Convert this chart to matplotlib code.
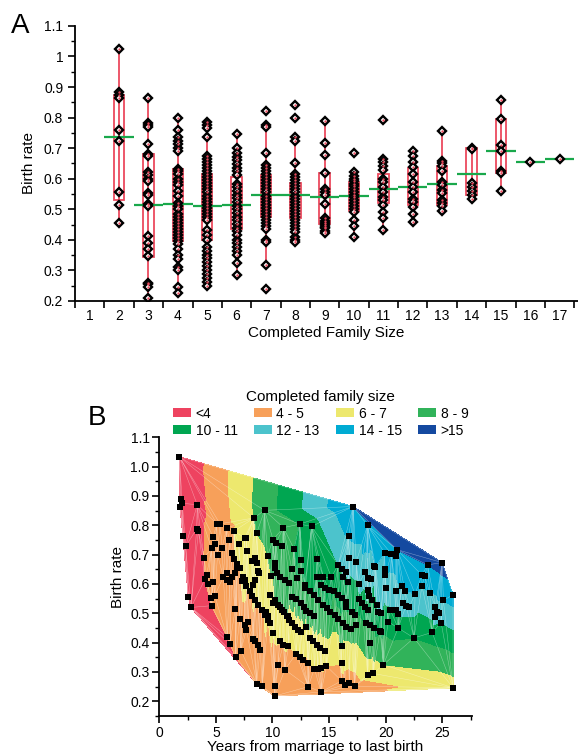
import numpy as np
import matplotlib.pyplot as plt
import matplotlib.tri as mtri
from matplotlib.patches import Patch
from matplotlib.ticker import MultipleLocator, FormatStrFormatter

plt.rcParams['font.family'] = ['Liberation Sans', 'DejaVu Sans']

'''Panel A: birth rate by completed family size'''
sizes = list(range(2, 18))

r2 = [1.025, 0.885, 0.875, 0.865, 0.76, 0.725, 0.555, 0.515, 0.455]
r3 = [0.863, 0.781, 0.776, 0.770, 0.714, 0.68, 0.676, 0.621, 0.611, 0.60, 0.594, 0.553,
      0.546, 0.516, 0.51, 0.412, 0.39, 0.369, 0.347, 0.26, 0.255, 0.247, 0.211]
r4 = [0.80, 0.76, 0.735, 0.725, 0.715, 0.70, 0.69, 0.632, 0.625, 0.615, 0.60, 0.59, 0.58,
      0.56, 0.542, 0.52, 0.51, 0.50, 0.485, 0.475, 0.465, 0.455, 0.445, 0.435, 0.425,
      0.415, 0.405, 0.395, 0.385, 0.37, 0.35, 0.336, 0.31, 0.30, 0.245, 0.225]
r5 = [0.785, 0.775, 0.765, 0.736, 0.675, 0.665, 0.655, 0.645, 0.635, 0.625, 0.615, 0.605,
      0.595, 0.585, 0.575, 0.565, 0.555, 0.545, 0.535, 0.525, 0.515, 0.505, 0.495, 0.485,
      0.475, 0.465, 0.431, 0.415, 0.40, 0.377, 0.365, 0.352, 0.34, 0.328, 0.315, 0.30,
      0.288, 0.275, 0.262, 0.25]
r6 = [0.745, 0.70, 0.685, 0.672, 0.66, 0.648, 0.636, 0.624, 0.612, 0.584, 0.572, 0.56,
      0.548, 0.536, 0.524, 0.512, 0.50, 0.488, 0.476, 0.464, 0.452, 0.44, 0.428, 0.415,
      0.40, 0.39, 0.378, 0.365, 0.352, 0.325, 0.285]
r7 = [0.82, 0.775, 0.77, 0.683, 0.645, 0.635, 0.625, 0.615, 0.605, 0.595, 0.585, 0.575,
      0.565, 0.555, 0.545, 0.535, 0.525, 0.515, 0.505, 0.495, 0.485, 0.475, 0.465, 0.455,
      0.445, 0.435, 0.40, 0.393, 0.317, 0.24]
r8 = [0.842, 0.798, 0.735, 0.725, 0.651, 0.615, 0.605, 0.595, 0.585, 0.575, 0.565, 0.555,
      0.545, 0.535, 0.525, 0.515, 0.505, 0.495, 0.485, 0.475, 0.465, 0.455, 0.445, 0.435,
      0.425, 0.41, 0.40, 0.393]
r9 = [0.788, 0.717, 0.679, 0.62, 0.565, 0.556, 0.546, 0.516, 0.47, 0.462, 0.455, 0.449,
      0.443, 0.438, 0.43, 0.424]
r10 = [0.685, 0.621, 0.61, 0.60, 0.592, 0.583, 0.575, 0.566, 0.557, 0.548, 0.54, 0.531,
       0.522, 0.512, 0.50, 0.49, 0.464, 0.445, 0.41]
r11 = [0.793, 0.665, 0.654, 0.641, 0.627, 0.60, 0.59, 0.573, 0.556, 0.54, 0.53, 0.513,
       0.491, 0.47, 0.431]
r12 = [0.69, 0.674, 0.654, 0.638, 0.616, 0.59, 0.573, 0.556, 0.535, 0.524, 0.507, 0.484, 0.458]
r13 = [0.757, 0.657, 0.651, 0.641, 0.625, 0.59, 0.58, 0.563, 0.552, 0.53, 0.52, 0.51, 0.494]
r14 = [0.70, 0.697, 0.586, 0.573, 0.56, 0.548, 0.535]
r15 = [0.858, 0.795, 0.711, 0.692, 0.625, 0.619, 0.559]
r16 = [0.656]
r17 = [0.666]
rates_a = [r2, r3, r4, r5, r6, r7, r8, r9, r10, r11, r12, r13, r14, r15, r16, r17]

box_lo = [0.53, 0.345, 0.395, 0.399, 0.437, 0.475, 0.47, 0.451, 0.495, 0.52, 0.515, 0.515,
          0.548, 0.619, 0.656, 0.666]
box_hi = [0.875, 0.68, 0.632, 0.616, 0.607, 0.613, 0.585, 0.62, 0.59, 0.616, 0.635, 0.641,
          0.70, 0.795, 0.656, 0.666]
whisk_lo = [0.455, 0.211, 0.225, 0.25, 0.285, 0.317, 0.393, 0.424, 0.41, 0.431, 0.458, 0.494,
            0.535, 0.559, 0.656, 0.666]
whisk_hi = [1.025, 0.863, 0.80, 0.785, 0.745, 0.77, 0.725, 0.788, 0.621, 0.665, 0.69, 0.757,
            0.70, 0.858, 0.656, 0.666]
mean_rate = [0.738, 0.514, 0.516, 0.51, 0.514, 0.547, 0.548, 0.539, 0.543, 0.568, 0.573,
             0.582, 0.615, 0.692, 0.656, 0.666]

'''Panel B: years to last birth vs birth rate, by completed family size'''
yrs2 = [1.77, 1.92, 2.03, 1.83, 2.12, 2.33, 2.56, 2.80]
br2 = [1.034, 0.889, 0.875, 0.864, 0.764, 0.728, 0.557, 0.520]
yrs3 = [3.35, 3.30, 3.45]
br3 = [0.870, 0.788, 0.781]
yrs4 = [3.94, 4.18, 4.03, 4.27, 4.62, 4.60, 4.90, 6.00, 6.24, 6.74, 7.20, 8.60, 9.10, 10.2, 10.2]
br4 = [0.690, 0.630, 0.616, 0.599, 0.526, 0.552, 0.560, 0.419, 0.396, 0.351, 0.373, 0.260,
       0.251, 0.252, 0.218]
yrs5 = [5.07, 5.36, 5.95, 4.77, 4.92, 4.62, 5.56, 5.15, 6.40, 6.60, 5.65, 5.95, 6.24, 6.40,
        5.95, 4.77, 6.70, 7.10, 7.56, 7.85, 7.70, 8.30, 8.45, 8.68, 8.90, 10.5, 11.1, 13.15,
        14.3, 16.1, 16.4, 16.8, 17.25]
br5 = [0.805, 0.805, 0.790, 0.760, 0.736, 0.721, 0.724, 0.700, 0.704, 0.685, 0.624, 0.613,
       0.607, 0.624, 0.636, 0.607, 0.514, 0.480, 0.461, 0.469, 0.444, 0.414, 0.407, 0.392,
       0.375, 0.325, 0.308, 0.250, 0.232, 0.270, 0.257, 0.263, 0.252]
yrs6 = [6.20, 6.90, 6.68, 6.83, 6.60, 7.03, 7.12, 8.00, 8.20, 8.45, 8.74, 9.03, 9.30, 9.60,
        7.70, 7.27, 10.06, 10.65, 10.95, 11.4, 12.1, 12.4, 12.7, 13.15, 13.7, 14.0, 14.3, 14.77]
br6 = [0.750, 0.668, 0.636, 0.656, 0.780, 0.737, 0.654, 0.575, 0.560, 0.546, 0.529, 0.512,
       0.495, 0.478, 0.592, 0.609, 0.432, 0.404, 0.393, 0.387, 0.363, 0.352, 0.340, 0.331,
       0.311, 0.311, 0.314, 0.320]
yrs7 = [7.55, 7.70, 7.77, 7.42, 7.56, 8.45, 8.60, 8.83, 8.20, 8.74, 8.45, 8.30, 9.80, 10.06,
        9.47, 9.60, 9.77, 11.4, 11.5, 11.68, 11.97, 12.27, 12.56, 13.0, 13.3, 13.6, 13.9,
        14.2, 14.6, 16.1, 18.4, 18.9, 25.95]
br7 = [0.757, 0.757, 0.713, 0.624, 0.613, 0.690, 0.673, 0.639, 0.679, 0.645, 0.613, 0.596,
       0.563, 0.535, 0.503, 0.491, 0.468, 0.490, 0.478, 0.466, 0.455, 0.443, 0.435, 0.453,
       0.416, 0.404, 0.393, 0.382, 0.370, 0.331, 0.290, 0.295, 0.246]
yrs8 = [8.36, 8.60, 9.56, 9.90, 10.2, 10.45, 10.65, 10.8, 11.0, 11.3, 16.1, 19.8]
br8 = [0.825, 0.773, 0.696, 0.628, 0.546, 0.530, 0.520, 0.512, 0.503, 0.491, 0.390, 0.325]
yrs9 = [9.30, 10.05, 10.2, 10.3, 10.8, 11.7, 10.97, 10.2, 10.36, 10.65, 11.1, 11.5, 11.68,
        12.1, 12.5, 12.8, 13.0, 13.3, 13.7, 15.5, 15.8, 16.2, 16.5, 16.9, 17.4, 18.6]
br9 = [0.851, 0.751, 0.670, 0.740, 0.728, 0.652, 0.792, 0.654, 0.637, 0.623, 0.614, 0.603,
       0.557, 0.548, 0.535, 0.523, 0.509, 0.500, 0.491, 0.495, 0.480, 0.466, 0.455, 0.446,
       0.461, 0.400]
yrs10 = [12.4, 11.9, 12.55, 12.55, 12.2, 12.86, 12.9, 13.3, 13.7, 14.0, 14.5, 14.8, 15.07,
         16.5, 17.0, 17.25, 18.6, 18.3, 19.0, 19.5, 19.6, 22.5, 14.3, 14.6, 15.0, 15.4]
br10 = [0.804, 0.720, 0.683, 0.644, 0.620, 0.598, 0.586, 0.575, 0.563, 0.546, 0.529, 0.518,
        0.506, 0.523, 0.506, 0.495, 0.460, 0.466, 0.450, 0.440, 0.435, 0.416, 0.597, 0.586,
        0.580, 0.575]
yrs11 = [13.45, 13.95, 13.9, 14.5, 20.2, 21.1, 24.1, 18.4, 15.8, 16.1, 16.5, 18.5, 18.8,
         19.2, 17.6, 17.9, 18.2]
br11 = [0.796, 0.686, 0.623, 0.623, 0.472, 0.450, 0.435, 0.510, 0.563, 0.552, 0.540, 0.560,
        0.545, 0.530, 0.550, 0.535, 0.520]
yrs12 = [15.8, 16.1, 16.5, 15.2, 16.25, 16.7, 20.9, 21.1, 20.4, 19.6, 19.3, 24.9]
br12 = [0.665, 0.652, 0.640, 0.623, 0.625, 0.606, 0.513, 0.498, 0.512, 0.500, 0.503, 0.468]
yrs13 = [16.8, 17.4, 18.2, 19.0, 17.6, 18.45, 18.7, 18.4, 20.0, 20.9, 21.5, 21.8, 22.1,
         24.4, 24.5, 24.7, 24.4]
br13 = [0.690, 0.675, 0.641, 0.660, 0.600, 0.620, 0.617, 0.580, 0.586, 0.575, 0.535, 0.526,
        0.523, 0.523, 0.506, 0.500, 0.489]
yrs14 = [16.74, 19.9, 19.1, 19.9, 19.98, 23.2, 21.4, 25.1, 23.9, 22.6, 21.7]
br14 = [0.762, 0.705, 0.659, 0.650, 0.631, 0.593, 0.593, 0.544, 0.569, 0.566, 0.575]
yrs15 = [18.4, 20.5, 20.9, 23.2, 23.45, 25.95]
br15 = [0.800, 0.703, 0.697, 0.630, 0.627, 0.563]
yrs16 = [17.12, 21.0, 23.7]
br16 = [0.864, 0.717, 0.665]
yrs17 = [24.98]
br17 = [0.673]

yrs_b = [yrs2, yrs3, yrs4, yrs5, yrs6, yrs7, yrs8, yrs9, yrs10, yrs11, yrs12, yrs13,
         yrs14, yrs15, yrs16, yrs17]
br_b = [br2, br3, br4, br5, br6, br7, br8, br9, br10, br11, br12, br13, br14, br15, br16, br17]

band_labels = ['<4', '4 - 5', '6 - 7', '8 - 9', '10 - 11', '12 - 13', '14 - 15', '>15']
band_levels = [0, 4, 6, 8, 10, 12, 14, 16, 30]
band_colors = ['#EE4360', '#F7A05A', '#EDE86E', '#31B35A', '#00A651', '#4CC3CC',
               '#00ABD3', '#1449A0']

red = '#EC4A5E'
grn = '#19A84B'

fig = plt.figure(figsize=(5.78, 7.56), dpi=100)

'''A'''
axA = fig.add_axes([0.1298, 0.6019, 0.870, 0.3638])
cats = np.array(sizes)
axA.bar(cats, np.array(box_hi) - np.array(box_lo), bottom=box_lo, width=0.36,
        fill=False, edgecolor=red, lw=1.3, zorder=2)
axA.vlines(cats, whisk_lo, whisk_hi, color=red, lw=1.3, zorder=2)
axA.hlines(whisk_lo, cats - 0.1, cats + 0.1, color=red, lw=1.3, zorder=2)
axA.hlines(whisk_hi, cats - 0.1, cats + 0.1, color=red, lw=1.3, zorder=2)
axA.hlines(mean_rate, cats - 0.5, cats + 0.5, color=grn, lw=1.6, zorder=2.5)
for c, r in zip(sizes, rates_a):
    axA.plot([c] * len(r), r, 'D', ms=4.3, mfc='white', mec='black', mew=1.7, zorder=3)
    axA.plot([c] * len(r), r, '.', ms=1.4, color=red, zorder=4)

axA.set_xlim(0.5, 17.62)
axA.set_ylim(0.2, 1.1)
axA.set_xticks(np.arange(1, 18), labels=[str(i) for i in range(1, 18)])
axA.set_xticks(np.arange(0.5, 18, 1), minor=True)
axA.tick_params(axis='x', which='major', length=0, pad=6, labelsize=10)
axA.tick_params(axis='x', which='minor', length=5, width=1.2, direction='out')
axA.yaxis.set_major_locator(MultipleLocator(0.1))
axA.yaxis.set_minor_locator(MultipleLocator(0.05))
axA.yaxis.set_major_formatter(FormatStrFormatter('%g'))
axA.tick_params(axis='y', which='major', length=5, width=1.2, labelsize=10)
axA.tick_params(axis='y', which='minor', length=3, width=1.0)
for s in ['top', 'right']:
    axA.spines[s].set_visible(False)
for s in ['left', 'bottom']:
    axA.spines[s].set_linewidth(1.3)
axA.set_xlabel('Completed Family Size', fontsize=11, labelpad=2)
axA.set_ylabel('Birth rate', fontsize=11, labelpad=6)
fig.text(0.035, 0.965, 'A', fontsize=20, ha='center', va='center')

'''B'''
axB = fig.add_axes([0.2756, 0.0529, 0.5405, 0.3687])
xb, yb, zb = [], [], []
for n, xs, ys in zip(sizes, yrs_b, br_b):
    xb += xs
    yb += ys
    zb += [n] * len(xs)
tri = mtri.Triangulation(xb, yb)
axB.tricontourf(tri, zb, levels=band_levels, colors=band_colors)
axB.triplot(tri, color='white', lw=0.35, alpha=0.45)
axB.scatter(xb, yb, marker='s', s=22, c='black', lw=0, zorder=3)

axB.set_xlim(0, 27.6)
axB.set_ylim(0.15, 1.1)
axB.xaxis.set_major_locator(MultipleLocator(5))
axB.xaxis.set_minor_locator(MultipleLocator(2.5))
axB.yaxis.set_minor_locator(MultipleLocator(0.05))
axB.set_yticks(np.arange(0.2, 1.15, 0.1))
axB.yaxis.set_major_formatter(FormatStrFormatter('%.1f'))
axB.tick_params(which='major', length=5, width=1.2, labelsize=10, pad=2)
axB.tick_params(which='minor', length=3, width=1.0)
for s in ['top', 'right']:
    axB.spines[s].set_visible(False)
for s in ['left', 'bottom']:
    axB.spines[s].set_linewidth(1.3)
axB.set_xlabel('Years from marriage to last birth', fontsize=11, labelpad=0)
axB.set_ylabel('Birth rate', fontsize=11)
fig.text(0.168, 0.447, 'B', fontsize=20, ha='center', va='center')

handles = [Patch(facecolor=c, edgecolor='none') for c in band_colors]
order = [0, 4, 1, 5, 2, 6, 3, 7]
fig.legend([handles[i] for i in order], [band_labels[i] for i in order],
           title='Completed family size', title_fontsize=11, fontsize=10,
           ncol=4, frameon=False, loc='upper center', bbox_to_anchor=(0.555, 0.497),
           handlelength=1.3, handleheight=0.6, handletextpad=0.3,
           columnspacing=1.2, labelspacing=0.2, borderpad=0.2)

fig.savefig('out.png', dpi=100)
